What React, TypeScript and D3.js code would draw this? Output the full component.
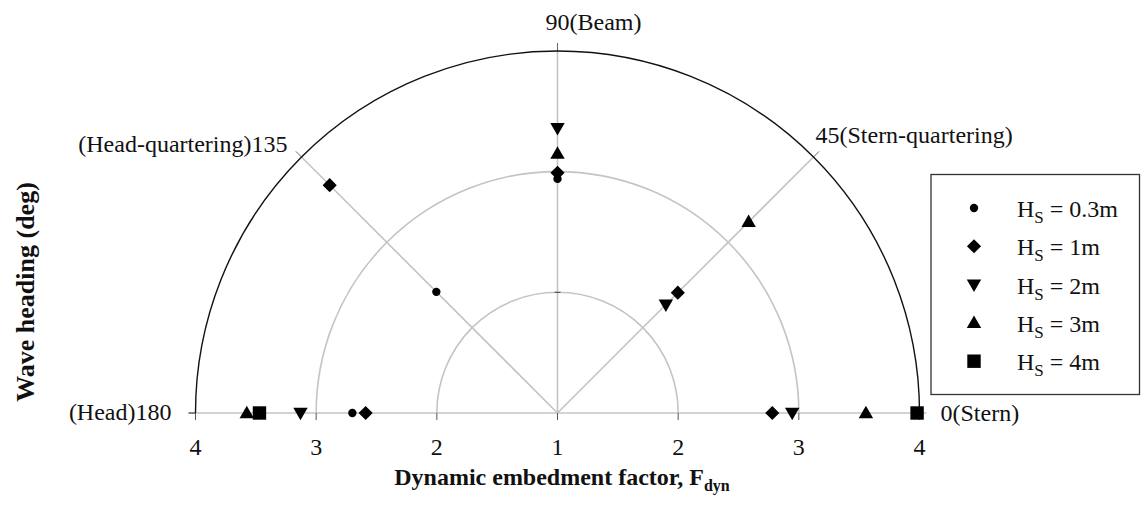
import React from "react";
import * as d3 from "d3";

// Wave headings (deg) at which F_dyn was evaluated
const headings = [0, 45, 90, 135, 180];
const headingLabels = ["0(Stern)", "45(Stern-quartering)", "90(Beam)", "(Head-quartering)135", "(Head)180"];
const radialTicks = [1, 2, 3, 4];

// Dynamic embedment factor per heading (null = no result)
const hs03 = [null, null, 2.94, 2.42, 2.7];
const hs1 = [2.78, 2.41, 2.99, 3.67, 2.59];
const hs2 = [2.945, 2.27, 3.36, null, 3.13];
const hs3 = [3.556, 3.24, 3.15, null, 3.575];
const hs4 = [3.98, null, null, null, 3.47];

const seriesNames = ["0.3m", "1m", "2m", "3m", "4m"];
const seriesValues = [hs03, hs1, hs2, hs3, hs4];

const W = 1147;
const H = 509;
const cx = 557.5;
const cy = 413;
const R = 362;
const FONT = "'Liberation Serif', 'Times New Roman', serif";

const r = d3.scaleLinear().domain([1, 4]).range([0, R]);

function polar(deg: number, rad: number) {
  const a = (deg * Math.PI) / 180;
  return [cx + rad * Math.cos(a), cy - rad * Math.sin(a)];
}

// marker path for each series
function markerPath(i: number) {
  const sym = d3.symbol();
  if (i === 0) return sym.type(d3.symbolCircle).size(55)();
  if (i === 1) return sym.type(d3.symbolSquare).size(100)();
  if (i === 2) return sym.type(d3.symbolTriangle).size(90)();
  if (i === 3) return sym.type(d3.symbolTriangle).size(90)();
  return sym.type(d3.symbolSquare).size(180)();
}
function markerRotate(i: number) {
  if (i === 1) return 45;
  if (i === 2) return 180;
  return 0;
}

function Marker({ i, x, y }: { i: number; x: number; y: number }) {
  const dy = i === 2 ? -1 : i === 3 ? 1 : 0;
  return (
    <path
      d={markerPath(i) as string}
      transform={`translate(${x},${y + dy}) rotate(${markerRotate(i)})`}
      fill="#000"
    />
  );
}

export default function App() {
  const outerArc = d3.arc()({
    innerRadius: R,
    outerRadius: R,
    startAngle: -Math.PI / 2,
    endAngle: Math.PI / 2,
  } as any) as string;

  const labelPlacement: Record<number, { dx: number; dy: number; anchor: string }> = {
    0: { dx: 21, dy: 8, anchor: "start" },
    45: { dx: 2, dy: -14, anchor: "start" },
    90: { dx: -12, dy: -21, anchor: "start" },
    135: { dx: -14, dy: -5, anchor: "end" },
    180: { dx: -24, dy: 7, anchor: "end" },
  };

  return (
    <svg
      width={W}
      height={H}
      style={{ position: "absolute", left: 0, top: 0, background: "#fff" }}
      fontFamily={FONT}
    >
      {/* grid circles */}
      {radialTicks
        .filter((t) => t > 1 && t < 4)
        .map((t) => (
          <path
            key={t}
            d={
              d3.arc()({
                innerRadius: r(t),
                outerRadius: r(t),
                startAngle: -Math.PI / 2,
                endAngle: Math.PI / 2,
              } as any) as string
            }
            transform={`translate(${cx},${cy})`}
            fill="none"
            stroke="#c4c4c4"
            strokeWidth={1.6}
          />
        ))}

      {/* baseline (0 / 180 spokes) */}
      <line x1={cx - R - 7} y1={cy} x2={cx + R + 7} y2={cy} stroke="#c4c4c4" strokeWidth={1.6} />

      {/* spokes */}
      {headings
        .filter((h) => h !== 0 && h !== 180)
        .map((h) => {
          const [x1, y1] = polar(h, 0);
          const [x2, y2] = polar(h, R);
          const [x3, y3] = polar(h, R + 8);
          return (
            <g key={h}>
              <line x1={x1} y1={y1} x2={x2} y2={y2} stroke="#c4c4c4" strokeWidth={1.6} />
              <line x1={x2} y1={y2} x2={x3} y2={y3} stroke="#666" strokeWidth={1} />
            </g>
          );
        })}

      {/* radial ticks on the beam spoke */}
      {radialTicks
        .filter((t) => t > 1 && t < 4)
        .map((t) => {
          const [x, y] = polar(90, r(t));
          return <line key={t} x1={x - 3} y1={y} x2={x + 3} y2={y} stroke="#444" strokeWidth={1} />;
        })}

      {/* outer boundary */}
      <path d={outerArc} transform={`translate(${cx},${cy})`} fill="none" stroke="#111" strokeWidth={1.4} />

      {/* ticks and labels along the bottom axis */}
      {[-1, 1].map((side) =>
        radialTicks.map((t) => {
          if (side === 1 && t === 1) return null;
          const x = cx + side * r(t);
          return (
            <g key={`${side}-${t}`}>
              <line x1={x} y1={cy} x2={x} y2={cy + 7} stroke="#555" strokeWidth={1} />
              <text x={x} y={cy + 42} textAnchor="middle" fontSize={24} fill="#111">
                {t}
              </text>
            </g>
          );
        })
      )}
      <line x1={cx - R - 7} y1={cy} x2={cx - R} y2={cy} stroke="#333" strokeWidth={1} />

      {/* heading labels */}
      {headings.map((h, i) => {
        const [x, y] = polar(h, R);
        const p = labelPlacement[h];
        return (
          <text key={h} x={x + p.dx} y={y + p.dy} textAnchor={p.anchor} fontSize={24} fill="#111">
            {headingLabels[i]}
          </text>
        );
      })}

      {/* data */}
      {seriesValues.map((vals, si) =>
        vals.map((v, hi) => {
          if (v == null) return null;
          const [x, y] = polar(headings[hi], r(v));
          return <Marker key={`${si}-${hi}`} i={si} x={x} y={y} />;
        })
      )}

      {/* legend */}
      <g transform="translate(931,174.5)">
        <rect x={0} y={0} width={208.5} height={220} fill="#fff" stroke="#333" strokeWidth={1.3} />
        {seriesNames.map((name, i) => {
          const y = 33.5 + i * 38.3;
          return (
            <g key={name}>
              <Marker i={i} x={43} y={y} />
              <text x={86} y={y + 9} fontSize={24} fill="#111">
                H
                <tspan fontSize={17} dy={6}>
                  S
                </tspan>
                <tspan dy={-6}>{` = ${name}`}</tspan>
              </text>
            </g>
          );
        })}
      </g>

      {/* axis titles */}
      <text x={562} y={485} textAnchor="middle" fontSize={24} fontWeight="bold" fill="#111">
        Dynamic embedment factor, F
        <tspan fontSize={16} dy={6}>
          dyn
        </tspan>
      </text>
      <text
        transform="translate(34,292) rotate(-90)"
        textAnchor="middle"
        fontSize={26}
        fontWeight="bold"
        fill="#111"
      >
        Wave heading (deg)
      </text>
    </svg>
  );
}
